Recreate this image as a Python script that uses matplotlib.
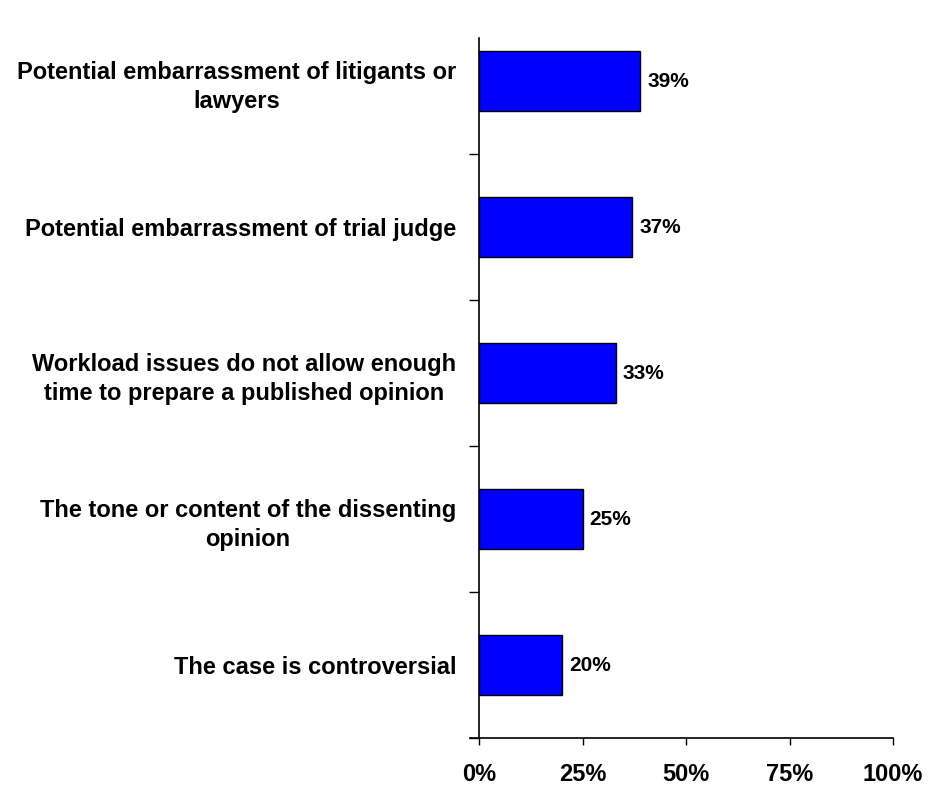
import matplotlib
matplotlib.use("Agg")
from matplotlib import pyplot as plt

plt.rcParams["font.family"] = ["Liberation Sans", "DejaVu Sans"]
plt.rcParams["font.weight"] = "bold"

categorias = [
    "The case is controversial",
    "The tone or content of the dissenting\nopinion",
    "Workload issues do not allow enough\ntime to prepare a published opinion",
    "Potential embarrassment of trial judge",
    "Potential embarrassment of litigants or\nlawyers",
]
valores = [20, 25, 33, 37, 39]
ticks_x = [0, 25, 50, 75, 100]

fig = plt.figure(figsize=(9.43, 7.87), dpi=100)
ax = fig.add_axes([479 / 943, 49 / 787, 414 / 943, 700 / 787])

pos = list(range(len(categorias)))
ax.barh(pos, valores, height=0.41, color="#0000FF", edgecolor="black", linewidth=1)

for p, v in zip(pos, valores):
    ax.text(v + 1.7, p, f"{v}%", va="center", ha="left", fontsize=15, fontweight="bold")

ax.set_xlim(0, 100)
ax.set_ylim(-0.5, 4.295)

ax.set_xticks(ticks_x)
ax.set_xticklabels([f"{t}%" for t in ticks_x], fontsize=17, fontweight="bold")
ax.tick_params(axis="x", length=5, width=1, pad=13, direction="out")

# ticks nos limites das categorias, rotulos no centro
ax.set_yticks([p - 0.5 for p in pos])
ax.set_yticklabels([])
ax.set_yticks(pos, minor=True)
ax.set_yticklabels(categorias, minor=True, fontsize=17, fontweight="bold",
                   multialignment="center", linespacing=1.35)
ax.tick_params(axis="y", which="minor", length=0, pad=16.5)
ax.tick_params(axis="y", which="major", length=7, width=1)

ax.spines["top"].set_visible(False)
ax.spines["right"].set_visible(False)
ax.spines["left"].set_linewidth(1.2)
ax.spines["bottom"].set_linewidth(1.2)
ax.spines["bottom"].set_bounds(-2.2, 100)
ax.spines["bottom"].set_clip_on(False)

fig.savefig("out.png", dpi=100)
